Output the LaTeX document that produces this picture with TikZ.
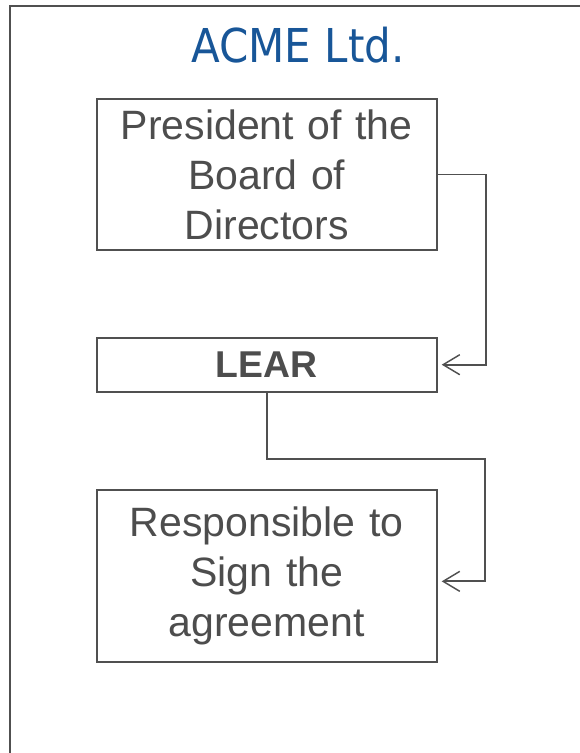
\documentclass[tikz,border=0pt]{standalone}
\usepackage{fontspec}
\setmainfont{Liberation Sans}
\newfontfamily\titlefont{DejaVu Sans Condensed}
\usetikzlibrary{arrows.meta}
\definecolor{linegray}{RGB}{80,80,80}
\definecolor{textgray}{RGB}{77,77,77}
\definecolor{acmeblue}{RGB}{24,86,152}
\begin{document}
\begin{tikzpicture}[
  x=0.75pt, y=-0.75pt,
  rolebox/.style={draw=linegray, line width=1.5pt, fill=white, text=textgray,
    minimum width=255pt, text width=250pt, align=center, inner sep=0pt,
    font=\fontsize{30.75}{37.5}\selectfont},
  link/.style={draw=linegray, line width=1.3pt,
    -{Straight Barb[length=12.5pt, width=15pt, line width=1.1pt]}, shorten >=3pt}
]
  \useasboundingbox (0,0) rectangle (580,753);
  % Rámec firmy
  \draw[linegray, line width=2.2pt] (580,6) -- (10,6) -- (10,753);
  \node[text=acmeblue, font=\titlefont\fontsize{35}{40}\selectfont] (title) at (298,45) {ACME Ltd.};

  % Role
  \node[rolebox, minimum height=113.25pt] (president) at (266.7,174.5)
    {President of the\\Board of\\Directors};
  \node[rolebox, minimum height=40.5pt, font=\fontsize{28}{34}\selectfont\bfseries] (lear) at (266.7,364.7) {LEAR};
  \node[rolebox, minimum height=129pt] (signer) at (266.7,576)
    {Responsible to\\Sign the\\agreement};

  % Spojnice
  \coordinate (bend) at (485,459);
  \draw[link] (president.east) -- ++(48.3,0) |- (lear.east);
  \draw[link] (lear.south) |- (bend) |- ([yshift=-4pt]signer.east);
\end{tikzpicture}
\end{document}
